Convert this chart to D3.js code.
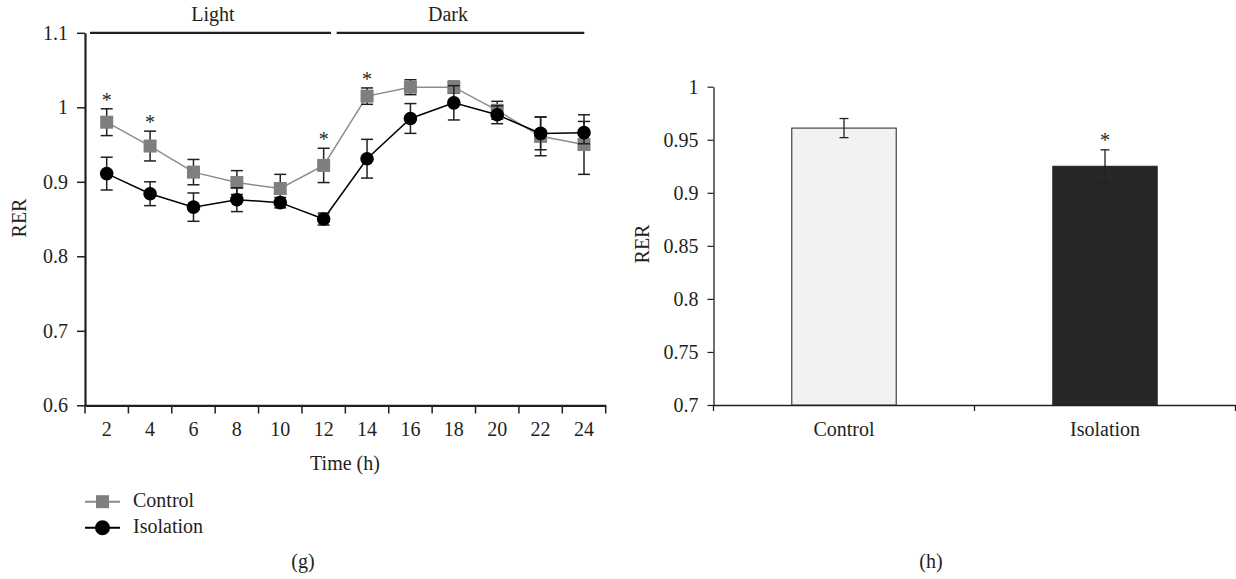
<!DOCTYPE html>
<html>
<head>
<meta charset="utf-8">
<script src="https://cdn.jsdelivr.net/npm/d3@7/dist/d3.min.js"></script>
<style>
  html, body { margin: 0; padding: 0; background: #fff; }
</style>
</head>
<body>
<svg id="fig" width="1236" height="579"></svg>
<script>
// ---- Panel (g): RER over the 24 h cycle ----
const hours = [2, 4, 6, 8, 10, 12, 14, 16, 18, 20, 22, 24];
const controlMean   = [0.980, 0.948, 0.913, 0.899, 0.891, 0.922, 1.015, 1.027, 1.027, 0.996, 0.961, 0.950];
const controlErr    = [0.018, 0.020, 0.017, 0.016, 0.019, 0.023, 0.011, 0.010, 0.008, 0.012, 0.026, 0.040];
const isolationMean = [0.911, 0.884, 0.866, 0.876, 0.872, 0.850, 0.931, 0.985, 1.006, 0.990, 0.965, 0.966];
const isolationErr  = [0.022, 0.016, 0.019, 0.016, 0.007, 0.008, 0.026, 0.020, 0.023, 0.012, 0.022, 0.015];
const controlStars  = [2, 4, 12, 14];
const lineTicks     = [0.6, 0.7, 0.8, 0.9, 1.0, 1.1];
const phases = [
  { label: "Light", from: 0, to: 12 },
  { label: "Dark",  from: 12, to: 24 }
];

// ---- Panel (h): mean RER per group ----
const groups     = ["Control", "Isolation"];
const groupMean  = [0.961, 0.925];
const groupErr   = [0.009, 0.0155];
const groupStars = ["Isolation"];
const barTicks   = [0.7, 0.75, 0.8, 0.85, 0.9, 0.95, 1.0];

const INK = "#231f20";
const FONT = "'Liberation Serif', 'Times New Roman', 'DejaVu Serif', serif";
const svg = d3.select("#fig");
const fmt = v => String(+v.toFixed(2));

// ================= Panel (g) =================
const gx = d3.scaleBand().domain(hours).range([85, 605.7]).padding(0);
const gy = d3.scaleLinear().domain([0.6, 1.1]).range([405.3, 32.8]);
const cx = h => gx(h) + gx.bandwidth() / 2;

const g = svg.append("g");

// y axis
const yAxisG = g.append("g").attr("transform", "translate(85,0)")
  .call(d3.axisLeft(gy).tickValues(lineTicks).tickFormat(fmt).tickSize(8).tickSizeOuter(0));
yAxisG.select(".domain").attr("stroke", INK).attr("stroke-width", 2.2);
yAxisG.selectAll(".tick line").attr("stroke", INK).attr("stroke-width", 1.5);
yAxisG.selectAll(".tick text").attr("x", -17).attr("dy", "0.33em");

// x axis: labels centred in each 2 h band, ticks on band edges
const xAxisG = g.append("g").attr("transform", "translate(0,405.3)")
  .call(d3.axisBottom(gx).tickSize(0).tickSizeOuter(0).tickPadding(0));
xAxisG.select(".domain").attr("stroke", INK).attr("stroke-width", 2.2);
xAxisG.selectAll(".tick text").attr("y", 0).attr("dy", "31px");
const edges = hours.map(h => gx(h)).concat([gx(hours[hours.length - 1]) + gx.bandwidth()]);
g.append("g").selectAll("line").data(edges).join("line")
  .attr("x1", d => d).attr("x2", d => d)
  .attr("y1", 405.3).attr("y2", 413.5)
  .attr("stroke", INK).attr("stroke-width", 1.5);

g.append("text").attr("x", 345).attr("y", 470).attr("text-anchor", "middle").text("Time (h)");
g.append("text").attr("transform", "translate(26,218) rotate(-90)").attr("text-anchor", "middle").text("RER");

// Light / Dark bars across the top, with a small gap at the 12 h switch
const phaseX = d3.scaleLinear().domain([0, 24]).range([85, 605.7]);
const phaseInset = [[5, 14.3], [-8.7, 21.4]];
const phaseLabelX = [213, 448];
phases.forEach((p, i) => {
  g.append("line")
    .attr("x1", phaseX(p.from) + phaseInset[i][0])
    .attr("x2", phaseX(p.to) - phaseInset[i][1])
    .attr("y1", 32.8).attr("y2", 32.8)
    .attr("stroke", INK).attr("stroke-width", 2.2);
  g.append("text").attr("x", phaseLabelX[i]).attr("y", 21)
    .attr("text-anchor", "middle").text(p.label);
});

const controlData = hours.map((h, i) => ({ h, m: controlMean[i], e: controlErr[i] }));
const isoData = hours.map((h, i) => ({ h, m: isolationMean[i], e: isolationErr[i] }));
const line = d3.line().x(d => cx(d.h)).y(d => gy(d.m));

function errorBars(sel, data, cap) {
  const eg = sel.append("g").attr("stroke", INK).attr("stroke-width", 1.5);
  data.forEach(d => {
    const x = cx(d.h), yt = gy(d.m + d.e), yb = gy(d.m - d.e);
    eg.append("line").attr("x1", x).attr("x2", x).attr("y1", yt).attr("y2", yb);
    eg.append("line").attr("x1", x - cap / 2).attr("x2", x + cap / 2).attr("y1", yt).attr("y2", yt);
    eg.append("line").attr("x1", x - cap / 2).attr("x2", x + cap / 2).attr("y1", yb).attr("y2", yb);
  });
}

// Control series (grey squares)
g.append("path").datum(controlData).attr("d", line)
  .attr("fill", "none").attr("stroke", "#8c8c8c").attr("stroke-width", 1.5);
errorBars(g, controlData, 12);
g.append("g").selectAll("rect").data(controlData).join("rect")
  .attr("x", d => cx(d.h) - 6.5).attr("y", d => gy(d.m) - 6.5)
  .attr("width", 13).attr("height", 13).attr("fill", "#7f7f7f");

// Isolation series (black circles)
g.append("path").datum(isoData).attr("d", line)
  .attr("fill", "none").attr("stroke", "#000").attr("stroke-width", 1.5);
errorBars(g, isoData, 12);
g.append("g").selectAll("circle").data(isoData).join("circle")
  .attr("cx", d => cx(d.h)).attr("cy", d => gy(d.m)).attr("r", 6.8).attr("fill", "#000");

// significance marks
g.append("g").selectAll("text").data(controlData.filter(d => controlStars.includes(d.h))).join("text")
  .attr("x", d => cx(d.h)).attr("y", d => gy(d.m + d.e) - 2)
  .attr("text-anchor", "middle").text("*");

// legend
const leg = g.append("g");
leg.append("line").attr("x1", 85).attr("x2", 120).attr("y1", 501.7).attr("y2", 501.7)
  .attr("stroke", "#8c8c8c").attr("stroke-width", 2);
leg.append("rect").attr("x", 96).attr("y", 495.2).attr("width", 13).attr("height", 13).attr("fill", "#7f7f7f");
leg.append("text").attr("x", 133).attr("y", 507).text("Control");
leg.append("line").attr("x1", 85).attr("x2", 120).attr("y1", 527.7).attr("y2", 527.7)
  .attr("stroke", "#000").attr("stroke-width", 2);
leg.append("circle").attr("cx", 102.5).attr("cy", 527.7).attr("r", 7.5).attr("fill", "#000");
leg.append("text").attr("x", 133).attr("y", 533).text("Isolation");

g.append("text").attr("x", 303).attr("y", 568).attr("text-anchor", "middle").text("(g)");

// ================= Panel (h) =================
const hx = d3.scaleBand().domain(groups).range([713.5, 1235.5]).paddingInner(0.6).paddingOuter(0.3);
const hy = d3.scaleLinear().domain([0.7, 1.0]).range([405, 86.7]);
const h = svg.append("g");

const hyAxis = h.append("g").attr("transform", "translate(713.5,0)")
  .call(d3.axisLeft(hy).tickValues(barTicks).tickFormat(fmt).tickSize(6).tickSizeOuter(0));
hyAxis.select(".domain").attr("stroke", INK).attr("stroke-width", 1.3);
hyAxis.selectAll(".tick line").attr("stroke", INK).attr("stroke-width", 1.2);
hyAxis.selectAll(".tick text").attr("x", -15).attr("dy", "0.33em");

const hxAxis = h.append("g").attr("transform", "translate(0,405)")
  .call(d3.axisBottom(hx).tickSize(0).tickSizeOuter(0).tickPadding(0));
hxAxis.select(".domain").attr("stroke", INK).attr("stroke-width", 1.3);
hxAxis.selectAll(".tick text").attr("y", 0).attr("dy", "31px");
const step = hx.step();
const hEdges = [0, 1, 2].map(i => 713.5 + i * step);
h.append("g").selectAll("line").data(hEdges).join("line")
  .attr("x1", d => d).attr("x2", d => d).attr("y1", 405).attr("y2", 411)
  .attr("stroke", INK).attr("stroke-width", 1.3);

const barData = groups.map((k, i) => ({ k, m: groupMean[i], e: groupErr[i] }));
h.append("g").selectAll("rect").data(barData).join("rect")
  .attr("x", d => hx(d.k)).attr("width", hx.bandwidth())
  .attr("y", d => hy(d.m)).attr("height", d => hy(0.7) - hy(d.m))
  .attr("fill", (d, i) => i === 0 ? "#f1f2f1" : "#262827")
  .attr("stroke", "#231f20").attr("stroke-width", 1);

const heb = h.append("g").attr("stroke", INK).attr("stroke-width", 1.3);
barData.forEach(d => {
  const x = hx(d.k) + hx.bandwidth() / 2, yt = hy(d.m + d.e), yb = hy(d.m - d.e);
  heb.append("line").attr("x1", x).attr("x2", x).attr("y1", yt).attr("y2", yb);
  heb.append("line").attr("x1", x - 4.5).attr("x2", x + 4.5).attr("y1", yt).attr("y2", yt);
  heb.append("line").attr("x1", x - 4.5).attr("x2", x + 4.5).attr("y1", yb).attr("y2", yb);
});
h.append("g").selectAll("text").data(barData.filter(d => groupStars.includes(d.k))).join("text")
  .attr("x", d => hx(d.k) + hx.bandwidth() / 2).attr("y", d => hy(d.m + d.e) - 3)
  .attr("text-anchor", "middle").text("*");

h.append("text").attr("transform", "translate(649,244) rotate(-90)").attr("text-anchor", "middle").text("RER");
h.append("text").attr("x", 931).attr("y", 568).attr("text-anchor", "middle").text("(h)");

// one typeface for every label, overriding the axis defaults
svg.selectAll("g").attr("font-family", null).attr("font-size", null);
svg.selectAll("text")
  .style("font-family", FONT)
  .style("font-size", "20px")
  .attr("fill", INK);
</script>
</body>
</html>
